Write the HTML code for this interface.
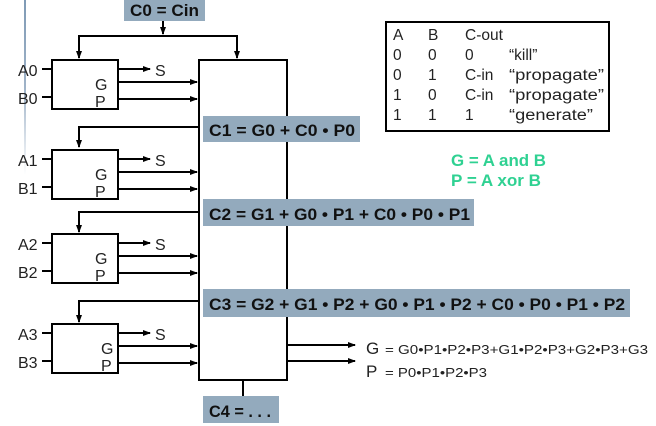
<!DOCTYPE html>
<html><head><meta charset="utf-8"><style>
html,body{margin:0;padding:0;background:#fff;}
svg{display:block;font-family:"Liberation Sans",Arial,sans-serif;}
</style></head><body>
<svg width="656" height="426" viewBox="0 0 656 426" xmlns="http://www.w3.org/2000/svg">
<defs>
<marker id="a" markerWidth="8" markerHeight="6" refX="7" refY="3" orient="auto" markerUnits="userSpaceOnUse"><path d="M0,0 L8,3 L0,6 z" fill="#000"/></marker>
<linearGradient id="fade" x1="0" y1="0" x2="0" y2="1"><stop offset="0" stop-color="#7f9ab5"/><stop offset="0.5" stop-color="#9fb3c8"/><stop offset="1" stop-color="#fff"/></linearGradient>
</defs>
<rect x="24" y="0" width="2" height="175" fill="url(#fade)"/>
<g stroke="#000" stroke-width="2" fill="none">
<line x1="163" y1="21" x2="163" y2="34" marker-end="url(#a)"/>
<polyline points="79,58 79,36 237,36 237,58" marker-end="url(#a)"/>
<line x1="79" y1="36" x2="79" y2="58" marker-end="url(#a)"/>
<rect x="199" y="60" width="88" height="320"/>
<line x1="243" y1="380" x2="243" y2="396"/>
<polyline points="199,127 79,127 79,147" marker-end="url(#a)"/>
<polyline points="199,212 79,212 79,232" marker-end="url(#a)"/>
<polyline points="199,301 79,301 79,322" marker-end="url(#a)"/>
<line x1="287" y1="345" x2="355" y2="345" marker-end="url(#a)"/>
<line x1="287" y1="361" x2="355" y2="361" marker-end="url(#a)"/>
</g>
<g stroke="#000" stroke-width="2" fill="none">
<g transform="translate(0,60)">
<rect x="52" y="0" width="66" height="49"/><line x1="42" y1="9" x2="52" y2="9"/><line x1="42" y1="37" x2="52" y2="37"/>
<line x1="118" y1="9" x2="150" y2="9" marker-end="url(#a)"/><line x1="118" y1="22" x2="197" y2="22" marker-end="url(#a)"/><line x1="118" y1="39" x2="197" y2="39" marker-end="url(#a)"/>
</g>
<g transform="translate(0,150)">
<rect x="52" y="0" width="66" height="49"/><line x1="42" y1="9" x2="52" y2="9"/><line x1="42" y1="37" x2="52" y2="37"/>
<line x1="118" y1="9" x2="150" y2="9" marker-end="url(#a)"/><line x1="118" y1="22" x2="197" y2="22" marker-end="url(#a)"/><line x1="118" y1="39" x2="197" y2="39" marker-end="url(#a)"/>
</g>
<g transform="translate(0,234)">
<rect x="52" y="0" width="66" height="49"/><line x1="42" y1="9" x2="52" y2="9"/><line x1="42" y1="37" x2="52" y2="37"/>
<line x1="118" y1="9" x2="150" y2="9" marker-end="url(#a)"/><line x1="118" y1="22" x2="197" y2="22" marker-end="url(#a)"/><line x1="118" y1="39" x2="197" y2="39" marker-end="url(#a)"/>
</g>
<g transform="translate(0,324)">
<rect x="52" y="0" width="66" height="49"/><line x1="42" y1="9" x2="52" y2="9"/><line x1="42" y1="37" x2="52" y2="37"/>
<line x1="118" y1="9" x2="150" y2="9" marker-end="url(#a)"/><line x1="118" y1="22" x2="197" y2="22" marker-end="url(#a)"/><line x1="118" y1="39" x2="197" y2="39" marker-end="url(#a)"/>
</g>
</g>
<g font-size="16" fill="#222">
<text x="18" y="76">A0</text><text x="18" y="104">B0</text><text x="155" y="76">S</text><text x="95" y="90">G</text><text x="95" y="107">P</text>
<text x="18" y="166">A1</text><text x="18" y="194">B1</text><text x="155" y="166">S</text><text x="95" y="180">G</text><text x="95" y="197">P</text>
<text x="18" y="250">A2</text><text x="18" y="278">B2</text><text x="155" y="250">S</text><text x="95" y="264">G</text><text x="95" y="281">P</text>
<text x="18" y="340">A3</text><text x="18" y="368">B3</text><text x="155" y="340">S</text><text x="101" y="354">G</text><text x="101" y="371">P</text>
</g>
<g fill="#93aabd">
<rect x="124" y="0" width="81" height="21"/>
<rect x="203" y="116" width="157" height="26"/>
<rect x="203" y="199" width="271" height="27"/>
<rect x="203" y="289" width="427" height="28"/>
<rect x="203" y="396" width="76" height="27"/>
</g>
<g font-size="17" font-weight="bold" fill="#111">
<text x="130" y="16" textLength="69" lengthAdjust="spacingAndGlyphs">C0 = Cin</text>
<text x="209" y="136" textLength="146" lengthAdjust="spacingAndGlyphs">C1 = G0 + C0 • P0</text>
<text x="209" y="220" textLength="261" lengthAdjust="spacingAndGlyphs">C2 = G1 + G0 • P1 + C0 • P0 • P1</text>
<text x="209" y="310" textLength="416" lengthAdjust="spacingAndGlyphs">C3 = G2 + G1 • P2 + G0 • P1 • P2 + C0 • P0 • P1 • P2</text>
<text x="209" y="417" textLength="62" lengthAdjust="spacingAndGlyphs">C4 = . . .</text>
</g>
<g fill="#222">
<text x="366" y="354" font-size="17">G</text>
<text x="385" y="354" font-size="13" textLength="263" lengthAdjust="spacingAndGlyphs">= G0•P1•P2•P3+G1•P2•P3+G2•P3+G3</text>
<text x="366" y="377" font-size="17">P</text>
<text x="385" y="377" font-size="13" textLength="102" lengthAdjust="spacingAndGlyphs">= P0•P1•P2•P3</text>
</g>
<rect x="386" y="22" width="223" height="109" fill="none" stroke="#000" stroke-width="2"/>
<g font-size="15.5" fill="#222">
<text x="393" y="40">A</text><text x="428" y="40">B</text><text x="465" y="40">C-out</text>
<text x="393" y="60">0</text><text x="428" y="60">0</text><text x="465" y="60">0</text><text x="509" y="60">“kill”</text>
<text x="393" y="80">0</text><text x="428" y="80">1</text><text x="465" y="80">C-in</text><text x="509" y="80" textLength="95" lengthAdjust="spacingAndGlyphs">“propagate”</text>
<text x="393" y="100">1</text><text x="428" y="100">0</text><text x="465" y="100">C-in</text><text x="509" y="100" textLength="95" lengthAdjust="spacingAndGlyphs">“propagate”</text>
<text x="393" y="120">1</text><text x="428" y="120">1</text><text x="465" y="120">1</text><text x="509" y="120" textLength="84" lengthAdjust="spacingAndGlyphs">“generate”</text>
</g>
<g font-size="16.5" font-weight="bold" fill="#2fd192">
<text x="451" y="166" textLength="95" lengthAdjust="spacingAndGlyphs">G = A and B</text>
<text x="451" y="186" textLength="90" lengthAdjust="spacingAndGlyphs">P = A xor B</text>
</g>
</svg>
</body></html>
